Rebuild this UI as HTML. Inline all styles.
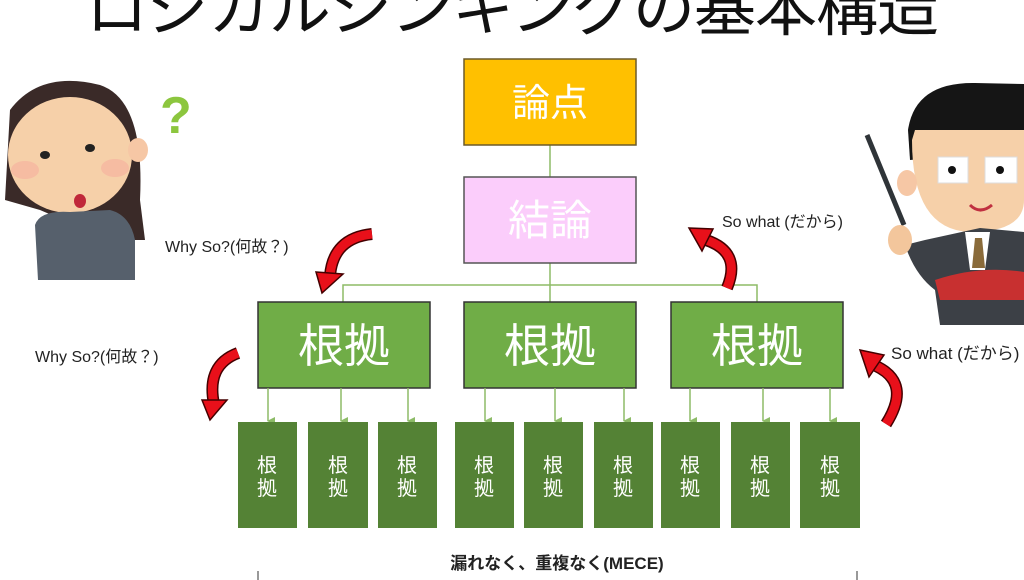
<!DOCTYPE html>
<html><head><meta charset="utf-8"><style>
html,body{margin:0;padding:0;background:#fff;}
body{width:1024px;height:580px;overflow:hidden;position:relative;font-family:"Liberation Sans","Noto Sans CJK JP",sans-serif;}
svg{position:absolute;left:0;top:0;}
</style></head><body>
<svg width="1024" height="580" viewBox="0 0 1024 580">
<defs>
<marker id="ah" markerWidth="8" markerHeight="8" refX="4" refY="7" orient="auto" markerUnits="userSpaceOnUse"><path d="M0,0 L8,0 L4,8z" fill="#8dbb67"/></marker>
</defs>
<!-- title -->
<text x="512" y="30" text-anchor="middle" font-size="62" font-family="Noto Sans CJK JP, sans-serif" fill="#111" letter-spacing="-1">ロジカルシンキングの基本構造</text>

<!-- woman -->
<path d="M10,110 Q40,70 100,85 Q145,100 140,200 L145,240 L110,240 L40,210 L5,200z" fill="#3a2a28"/>
<ellipse cx="70" cy="155" rx="62" ry="58" fill="#f6d0a9"/>
<ellipse cx="138" cy="150" rx="10" ry="12" fill="#f6c7a5"/>
<ellipse cx="25" cy="170" rx="14" ry="9" fill="#f7b3a0" opacity=".7"/>
<ellipse cx="115" cy="168" rx="14" ry="9" fill="#f7b3a0" opacity=".7"/>
<ellipse cx="45" cy="155" rx="5" ry="4" fill="#222"/>
<ellipse cx="90" cy="148" rx="5" ry="4" fill="#222"/>
<ellipse cx="80" cy="201" rx="6" ry="7" fill="#c0283a"/>
<path d="M35,225 Q40,210 70,212 L110,210 Q130,215 135,240 L135,280 L38,280z" fill="#56606c"/>
<text x="160" y="133" font-size="52" font-weight="bold" fill="#8cc63e" font-family="Liberation Sans,sans-serif">?</text>

<!-- man -->
<path d="M908,130 Q915,82 975,83 L1024,84 L1024,150 L910,160z" fill="#151515"/>
<path d="M912,140 Q912,230 970,232 Q1024,232 1024,200 L1024,130 L915,130z" fill="#f6d0a9"/>
<ellipse cx="907" cy="183" rx="10" ry="13" fill="#f6c7a5"/>
<rect x="938" y="157" width="30" height="26" fill="#fff" stroke="#ddd"/>
<rect x="985" y="157" width="32" height="26" fill="#fff" stroke="#ddd"/>
<circle cx="952" cy="170" r="4" fill="#111"/><circle cx="1000" cy="170" r="4" fill="#111"/>
<path d="M970,205 Q980,215 992,205" stroke="#c03040" stroke-width="3" fill="none"/>
<line x1="867" y1="135" x2="904" y2="225" stroke="#2f3438" stroke-width="5"/>
<path d="M925,240 L980,228 L1024,232 L1024,325 L940,325 L935,290 Q915,275 905,245z" fill="#3c4046"/>
<path d="M965,232 L990,232 L985,270 L970,270z" fill="#fff"/>
<path d="M975,238 L982,238 L985,268 L972,268z" fill="#8a6b3a"/>
<path d="M935,280 Q980,265 1024,272 L1024,300 L940,300z" fill="#c83030"/>
<ellipse cx="900" cy="240" rx="12" ry="15" fill="#f3c69c"/>

<!-- boxes -->
<line x1="550" y1="145" x2="550" y2="177" stroke="#8dbb67" stroke-width="1.5"/>
<line x1="550" y1="263" x2="550" y2="302" stroke="#8dbb67" stroke-width="1.5"/>
<polyline points="343,302 343,285 757,285 757,302" fill="none" stroke="#8dbb67" stroke-width="1.5"/>
<rect x="464" y="59" width="172" height="86" fill="#ffc000" stroke="#6b5a2a" stroke-width="1.5"/>
<text x="550" y="116" text-anchor="middle" font-size="38" fill="#fff">論点</text>
<rect x="464" y="177" width="172" height="86" fill="#fbcdfb" stroke="#555" stroke-width="1.5"/>
<text x="550" y="235" text-anchor="middle" font-size="42" fill="#fff">結論</text>
<g fill="#70ad47" stroke="#333" stroke-width="1.5">
<rect x="258" y="302" width="172" height="86"/><rect x="464" y="302" width="172" height="86"/><rect x="671" y="302" width="172" height="86"/>
</g>
<g fill="#fff" font-size="46" text-anchor="middle">
<text x="344" y="362">根拠</text><text x="550" y="362">根拠</text><text x="757" y="362">根拠</text>
</g>
<g stroke="#8dbb67" stroke-width="1.5" marker-end="url(#ah)">
<line x1="268" y1="388" x2="268" y2="421"/><line x1="341" y1="388" x2="341" y2="421"/><line x1="408" y1="388" x2="408" y2="421"/>
<line x1="485" y1="388" x2="485" y2="421"/><line x1="555" y1="388" x2="555" y2="421"/><line x1="624" y1="388" x2="624" y2="421"/>
<line x1="690" y1="388" x2="690" y2="421"/><line x1="763" y1="388" x2="763" y2="421"/><line x1="830" y1="388" x2="830" y2="421"/>
</g>
<g fill="#548235">
<rect x="238" y="422" width="59" height="106"/><rect x="308" y="422" width="60" height="106"/><rect x="378" y="422" width="59" height="106"/>
<rect x="455" y="422" width="59" height="106"/><rect x="524" y="422" width="59" height="106"/><rect x="594" y="422" width="59" height="106"/>
<rect x="661" y="422" width="59" height="106"/><rect x="731" y="422" width="59" height="106"/><rect x="800" y="422" width="60" height="106"/>
</g>
<g fill="#fff" font-size="20" text-anchor="middle">
<text x="267" y="472">根</text><text x="267" y="495">拠</text>
<text x="338" y="472">根</text><text x="338" y="495">拠</text>
<text x="407" y="472">根</text><text x="407" y="495">拠</text>
<text x="484" y="472">根</text><text x="484" y="495">拠</text>
<text x="553" y="472">根</text><text x="553" y="495">拠</text>
<text x="623" y="472">根</text><text x="623" y="495">拠</text>
<text x="690" y="472">根</text><text x="690" y="495">拠</text>
<text x="760" y="472">根</text><text x="760" y="495">拠</text>
<text x="830" y="472">根</text><text x="830" y="495">拠</text>
</g>
<text x="557" y="569" text-anchor="middle" font-size="17" font-weight="bold" fill="#222">漏れなく、重複なく(MECE)</text>
<line x1="258" y1="571" x2="258" y2="580" stroke="#333"/><line x1="857" y1="571" x2="857" y2="580" stroke="#333"/>

<!-- labels -->
<g font-size="16" fill="#222">
<text x="165" y="252">Why So?(何故？)</text>
<text x="722" y="227">So what (だから)</text>
<text x="35" y="362">Why So?(何故？)</text>
<text x="891" y="359" font-size="17">So what (だから)</text>
</g>

<!-- red arrows -->
<g fill="none" stroke-linecap="butt">
<path d="M372,234 Q333,238 330,276" stroke="#400" stroke-width="12"/>
<path d="M372,234 Q333,238 330,276" stroke="#e8101a" stroke-width="9"/>
<path d="M238,353 Q206,365 214,404" stroke="#400" stroke-width="12"/>
<path d="M238,353 Q206,365 214,404" stroke="#e8101a" stroke-width="9"/>
<path d="M727,288 Q742,252 706,240" stroke="#400" stroke-width="12"/>
<path d="M727,288 Q742,252 706,240" stroke="#e8101a" stroke-width="9"/>
<path d="M886,424 Q912,383 876,366" stroke="#400" stroke-width="12"/>
<path d="M886,424 Q912,383 876,366" stroke="#e8101a" stroke-width="9"/>
</g>
<g fill="#e8101a" stroke="#400" stroke-width="1.5">
<path d="M316,272 L343,274 L322,293z"/>
<path d="M202,400 L227,400 L210,420z"/>
<path d="M689,228 L713,229 L702,251z"/>
<path d="M860,350 L884,355 L869,377z"/>
</g>
</svg>
</body></html>
